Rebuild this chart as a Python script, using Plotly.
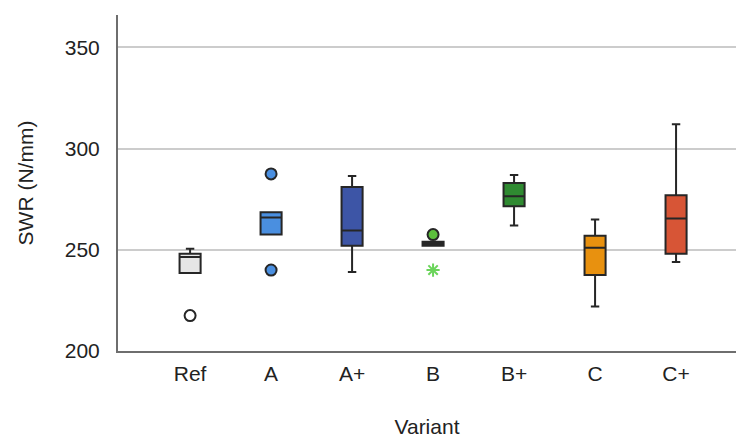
import plotly.graph_objects as go

# Box statistics per variant (SWR in N/mm)
variants = ["Ref", "A", "A+", "B", "B+", "C", "C+"]
q1 = [238.5, 257.5, 252.0, 252.0, 271.5, 237.5, 248.0]
medians = [246.5, 266.0, 259.5, 253.0, 276.5, 251.0, 265.5]
q3 = [248.0, 268.5, 281.0, 254.0, 283.0, 257.0, 277.0]
lower_fence = [238.5, 257.5, 239.0, 252.0, 262.0, 222.0, 244.0]
upper_fence = [250.5, 268.5, 286.5, 254.0, 287.0, 265.0, 312.0]
fill_colors = ["#e6e6e6", "#4a8fe0", "#3d55a6", "#5cbf3c", "#2f8a31", "#e8910f", "#d75536"]

# Outliers (circles) and extreme values (stars)
outlier_x = ["Ref", "A", "A", "B"]
outlier_y = [217.5, 287.5, 240.0, 257.5]
outlier_fill = ["#ffffff", "#4a8fe0", "#4a8fe0", "#5cbf3c"]
extreme_x = ["B"]
extreme_y = [240.0]

fig = go.Figure()

for i, v in enumerate(variants):
    fig.add_trace(go.Box(
        x=[v], q1=[q1[i]], median=[medians[i]], q3=[q3[i]],
        lowerfence=[lower_fence[i]], upperfence=[upper_fence[i]],
        fillcolor=fill_colors[i],
        line=dict(color="#262626", width=2),
        width=0.26, whiskerwidth=0.4,
        boxpoints=False, showlegend=False, hoverinfo="skip",
    ))

fig.add_trace(go.Scatter(
    x=outlier_x, y=outlier_y, mode="markers",
    marker=dict(symbol="circle", size=11, color=outlier_fill,
                line=dict(color="#262626", width=2)),
    showlegend=False, hoverinfo="skip",
))
fig.add_trace(go.Scatter(
    x=extreme_x, y=extreme_y, mode="markers",
    marker=dict(symbol="asterisk-open", size=11, color="#6ad45a",
                line=dict(color="#6ad45a", width=2)),
    showlegend=False, hoverinfo="skip",
))

font = "Liberation Sans, Arial, Helvetica, sans-serif"

fig.update_layout(
    width=736, height=438,
    margin=dict(l=118, r=0, t=15, b=87),
    paper_bgcolor="white", plot_bgcolor="white",
    font=dict(family=font, size=21, color="#222222"),
    boxmode="overlay",
)
fig.update_xaxes(
    type="category", categoryorder="array", categoryarray=variants,
    range=[-0.89, 6.74],
    showline=True, linecolor="#6e6e6e", linewidth=2,
    showgrid=False, ticks="", ticklabelstandoff=3,
    title=dict(text="Variant", standoff=35, font=dict(size=21)),
    tickfont=dict(size=21),
)
fig.update_yaxes(
    range=[200, 366], tickvals=[200, 250, 300, 350],
    showline=True, linecolor="#6e6e6e", linewidth=2,
    showgrid=True, gridcolor="#cccccc", gridwidth=1.5,
    zeroline=False, ticks="", ticklabelstandoff=12,
    title=dict(text="SWR (N/mm)", standoff=25, font=dict(size=21)),
    tickfont=dict(size=21),
)

fig.write_html("out.html")
